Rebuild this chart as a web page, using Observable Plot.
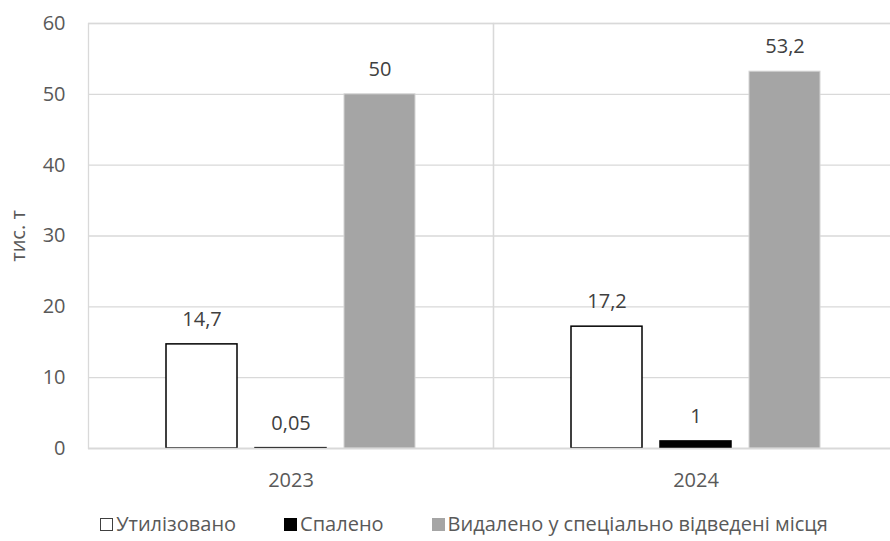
<!DOCTYPE html>
<html>
<head>
<meta charset="utf-8">
<script src="https://cdn.jsdelivr.net/npm/d3@7"></script>
<script src="https://cdn.jsdelivr.net/npm/@observablehq/plot@0.6"></script>
<style>
  html, body { margin: 0; padding: 0; background: white; overflow: hidden; }
  #chart { width: 890px; height: 541px; position: relative; }
  .legend { display: flex; justify-content: center; gap: 48px; margin-top: 12px; margin-left: 38px;
    font-family: "Open Sans", sans-serif; font-size: 20px; color: #595959; line-height: 24px; }
  .legend .item { display: flex; align-items: center; }
  .legend .sw { width: 13px; height: 13px; margin-right: 3px; box-sizing: border-box; }
</style>
</head>
<body>
<div id="chart"></div>
<script>
const years = ["2023", "2024"];
const series = ["Утилізовано", "Спалено", "Видалено у спеціально відведені місця"];
const values2023 = [14.7, 0.05, 50];
const values2024 = [17.2, 1, 53.2];
const yTicks = [0, 10, 20, 30, 40, 50, 60];
const fills = ["white", "black", "#a5a5a5"];
const strokes = ["black", "black", "#d4d4d4"];

const data = [];
years.forEach((yr, i) => {
  const vals = i === 0 ? values2023 : values2024;
  series.forEach((s, j) => data.push({year: yr, series: s, value: vals[j]}));
});
const fmt = v => String(v).replace(".", ",");

const chart = Plot.plot({
  width: 890,
  height: 500,
  marginTop: 23,
  marginBottom: 52,
  marginLeft: 88,
  marginRight: -8,
  style: {fontFamily: "Open Sans, sans-serif", fontSize: "20px", color: "#595959", background: "white", overflow: "hidden"},
  facet: {data: data, x: "year"},
  fx: {domain: years, padding: 0, label: null, tickSize: 0, tickPadding: 24},
  x: {domain: series, axis: null, paddingInner: 0.2, paddingOuter: 0.8625},
  y: {domain: [0, 60], ticks: yTicks, tickSize: 0, tickPadding: 23, label: "тис. т", labelArrow: false, labelAnchor: "center", labelOffset: 78},
  marks: [
    Plot.ruleY(yTicks, {stroke: "#d9d9d9", strokeWidth: 1.3}),
    Plot.frame({stroke: "#d9d9d9", strokeWidth: 1.3}),
    ...series.map((s, j) => Plot.barY(data, {
      filter: d => d.series === s,
      x: "series", y: "value",
      fill: fills[j], stroke: strokes[j], strokeWidth: j === 2 ? 1 : 1.5
    })),
    Plot.ruleY([0], {stroke: "#d9d9d9", strokeWidth: 1.3}),
    Plot.text(data, {x: "series", y: "value", text: d => fmt(d.value), dy: -25, fill: "#404040", fontSize: 20})
  ]
});
document.getElementById("chart").appendChild(chart);

const legend = document.createElement("div");
legend.className = "legend";
series.forEach((s, j) => {
  const item = document.createElement("div");
  item.className = "item";
  const sw = document.createElement("span");
  sw.className = "sw";
  sw.style.background = fills[j];
  sw.style.border = j === 0 ? "1px solid #404040" : "none";
  const t = document.createElement("span");
  t.textContent = s;
  item.appendChild(sw);
  item.appendChild(t);
  legend.appendChild(item);
});
document.getElementById("chart").appendChild(legend);
</script>
</body>
</html>
